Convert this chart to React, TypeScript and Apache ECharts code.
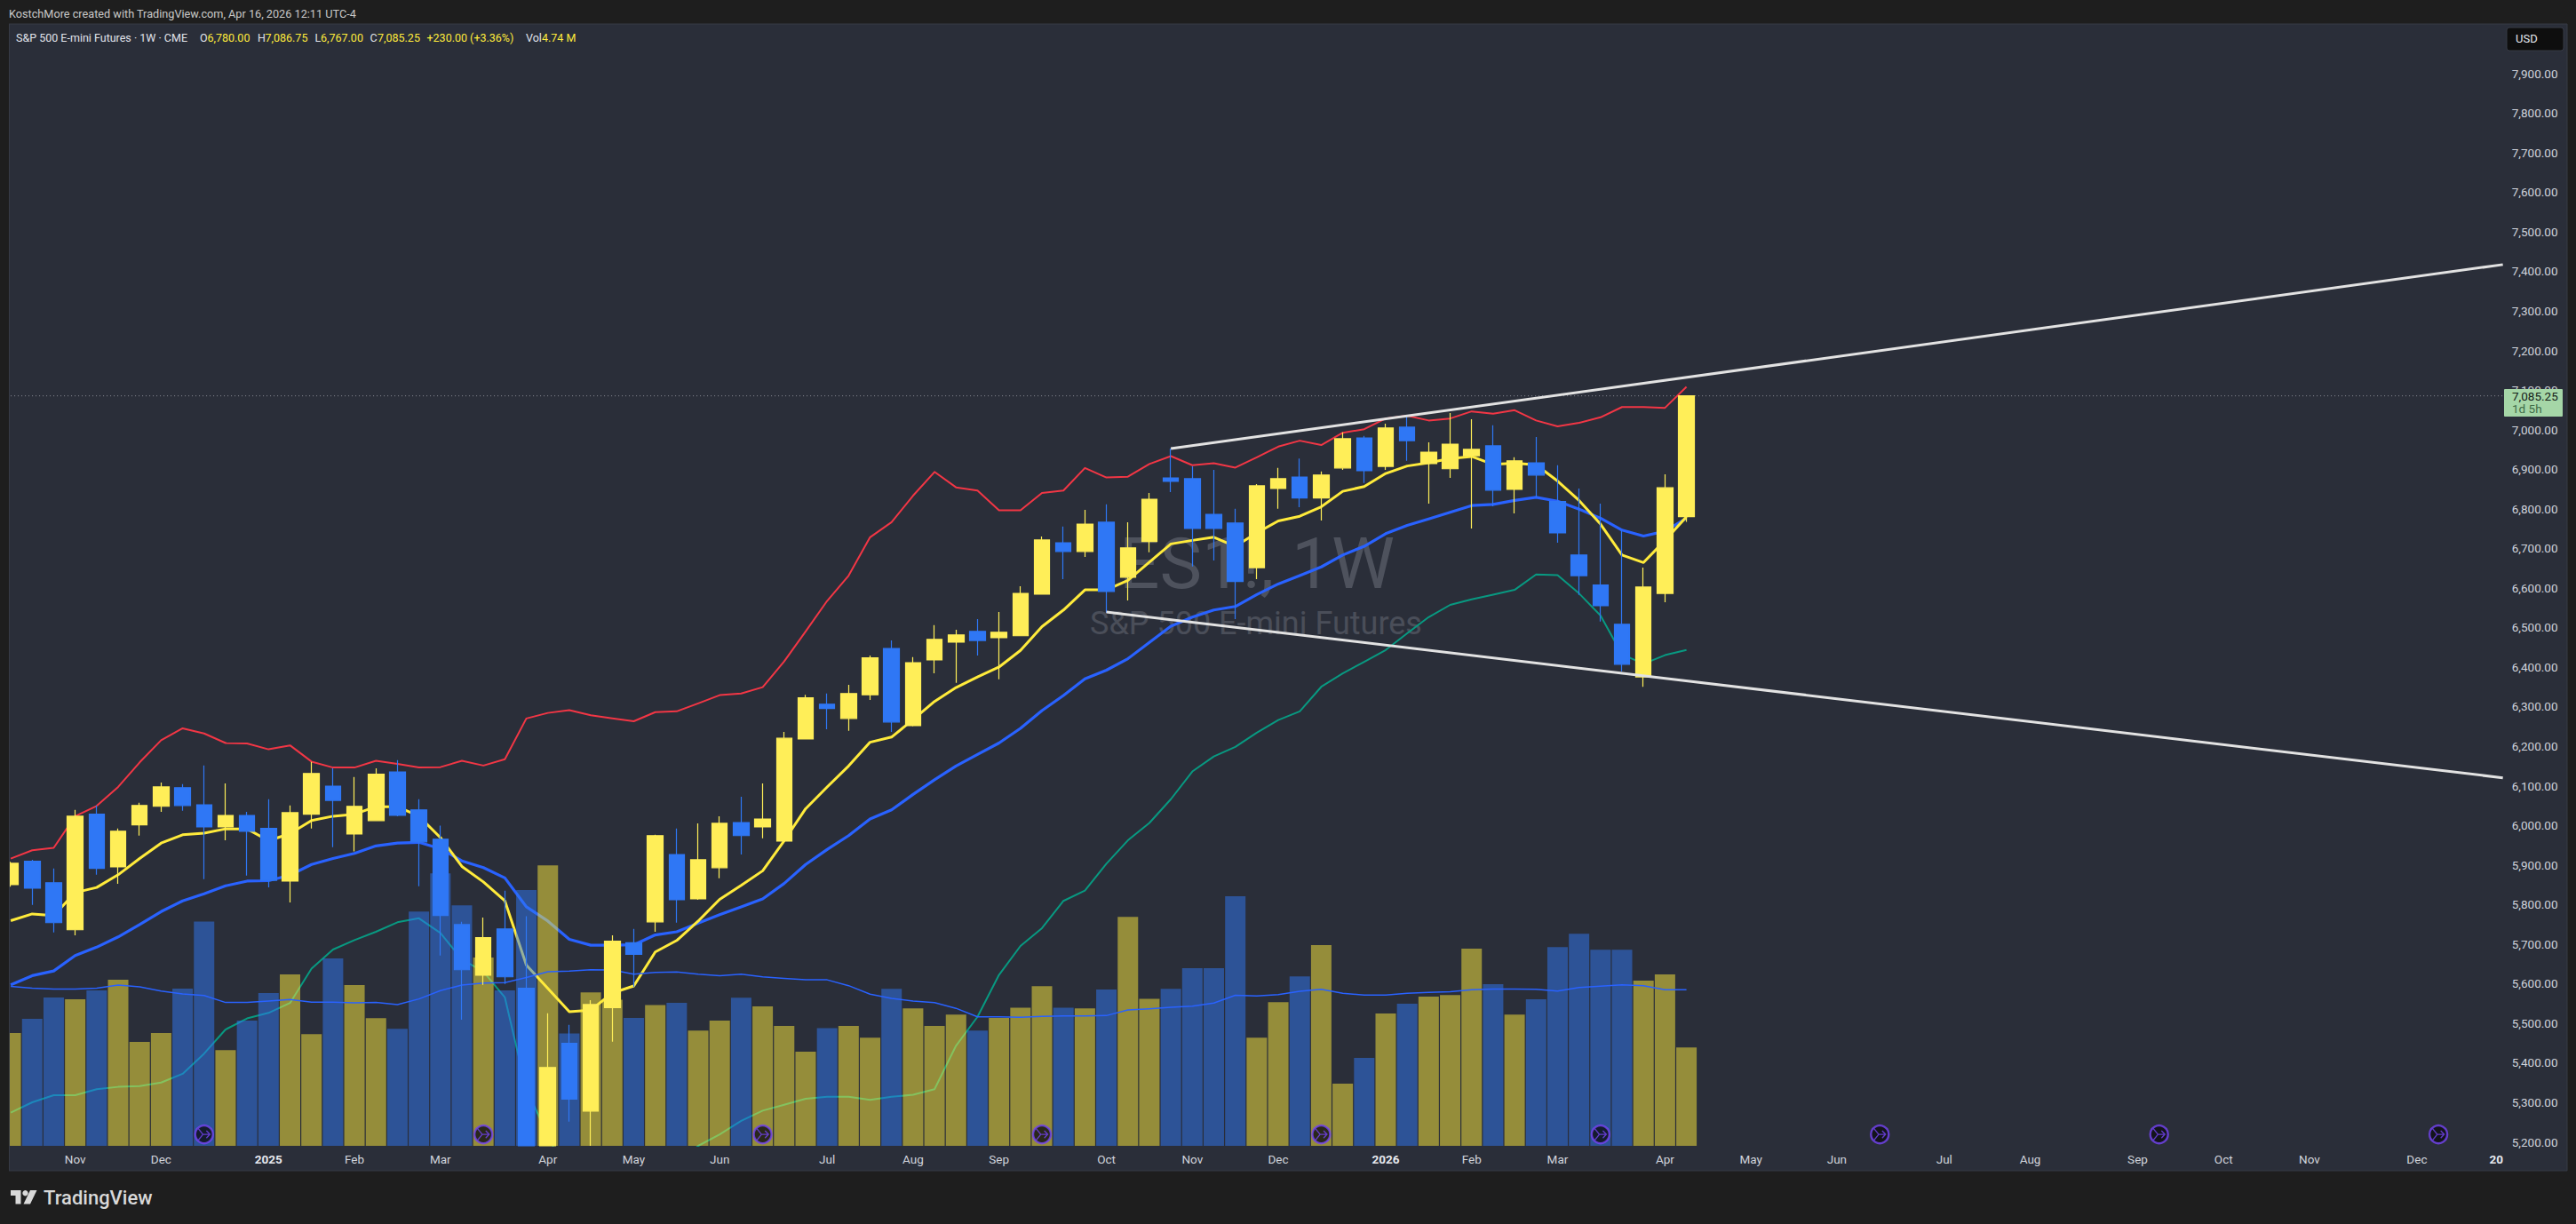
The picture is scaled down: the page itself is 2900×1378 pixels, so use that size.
import React, { useEffect, useRef } from "react";
import * as echarts from "echarts";

const FONT = "Roboto, 'Noto Sans', sans-serif";

const opens = [
  5850, 5909, 5855, 5736, 6028, 5895, 6001, 6048, 6095, 6052,
  5996, 6025, 5992, 5859, 6028, 6099, 5978, 6012, 6135, 6039,
  5965, 5749, 5621, 5738, 5588, 5000, 5449, 5278, 5539, 5703,
  5756, 5926, 5814, 5893, 6007, 5996, 5960, 6218, 6306, 6270,
  6330, 6447, 6252, 6418, 6463, 6490, 6474, 6479, 6584, 6714,
  6692, 6766, 6627, 6717, 6878, 6876, 6786, 6764, 6651, 6851,
  6880, 6827, 6903, 6979, 6907, 7006, 6914, 6901, 6934, 6959,
  6849, 6916, 6818, 6683, 6607, 6508, 6375, 6586, 6780,
];
const closes = [
  5904, 5841, 5754, 6023, 5891, 5985, 6050, 6097, 6050, 5996,
  6025, 5985, 5861, 6032, 6131, 6063, 6048, 6129, 6025, 5958,
  5772, 5635, 5716, 5617, 5090, 5388, 5308, 5547, 5707, 5674,
  5974, 5812, 5913, 6005, 5974, 6016, 6220, 6322, 6295, 6333,
  6423, 6261, 6411, 6470, 6481, 6467, 6488, 6586, 6721, 6692,
  6761, 6591, 6701, 6824, 6869, 6750, 6750, 6616, 6858, 6876,
  6827, 6885, 6977, 6896, 7004, 6972, 6943, 6963, 6950, 6847,
  6921, 6885, 6739, 6631, 6555, 6407, 6602, 6853, 7085.25,
];
const lows = [
  5845, 5799, 5729, 5722, 5875, 5852, 5974, 6034, 6037, 5864,
  5962, 5873, 5843, 5805, 5992, 5945, 5934, 6012, 6023, 5846,
  5671, 5509, 5597, 5599, 5060, 4832, 5251, 5150, 5453, 5592,
  5731, 5754, 5812, 5866, 5926, 5967, 5960, 6218, 6243, 6239,
  6317, 6236, 6250, 6384, 6360, 6429, 6369, 6479, 6584, 6622,
  6678, 6537, 6568, 6690, 6842, 6654, 6669, 6521, 6622, 6800,
  6804, 6770, 6898, 6865, 6898, 6921, 6813, 6878, 6750, 6806,
  6788, 6829, 6714, 6582, 6515, 6389, 6350, 6564, 6767,
];
const highs = [
  5908, 5913, 5891, 6039, 6050, 5992, 6057, 6108, 6104, 6151,
  6106, 6034, 6066, 6050, 6160, 6144, 6122, 6144, 6165, 6066,
  5999, 5756, 5767, 5835, 5770, 5525, 5496, 5558, 5722, 5738,
  5976, 5992, 6005, 6023, 6072, 6106, 6236, 6330, 6333, 6355,
  6429, 6467, 6425, 6506, 6494, 6521, 6539, 6604, 6730, 6755,
  6797, 6811, 6766, 6840, 6952, 6907, 6898, 6800, 6862, 6903,
  6927, 6894, 6993, 6984, 7015, 7035, 6968, 7042, 7026, 7011,
  6930, 6981, 6910, 6851, 6813, 6746, 6651, 6887, 7086.75,
];
const volumes = [
  5.43, 6.11, 7.14, 7.05, 7.48, 8.0, 5.0, 5.43, 7.57, 10.8,
  4.61, 6.03, 7.35, 8.25, 5.38, 9.02, 7.74, 6.15, 5.63, 11.28,
  13.12, 11.58, 9.06, 7.48, 12.31, 13.5, 5.41, 7.39, 7.03, 6.16,
  6.78, 6.88, 5.55, 6.03, 7.13, 6.71, 5.77, 4.53, 5.67, 5.77,
  5.21, 7.56, 6.62, 5.77, 6.32, 5.55, 6.16, 6.65, 7.69, 6.65,
  6.62, 7.52, 11.02, 7.08, 7.56, 8.55, 8.55, 12.01, 5.21, 6.92,
  8.16, 9.66, 2.99, 4.23, 6.37, 6.84, 7.18, 7.26, 9.49, 7.78,
  6.32, 7.05, 9.57, 10.21, 9.44, 9.44, 7.95, 8.25, 4.74,
];
const volumeAverage = [
  7.67, 7.59, 7.55, 7.55, 7.59, 7.74, 7.65, 7.45, 7.31, 7.24,
  6.9, 6.9, 6.97, 7.04, 6.92, 6.92, 6.88, 6.9, 6.8, 7.07,
  7.47, 7.74, 7.83, 7.86, 8.1, 8.38, 8.41, 8.48, 8.47, 8.26,
  8.35, 8.37, 8.26, 8.19, 8.26, 8.13, 8.06, 7.99, 7.99, 7.71,
  7.3, 7.1, 6.97, 6.89, 6.62, 6.21, 6.21, 6.19, 6.23, 6.25,
  6.25, 6.27, 6.54, 6.6, 6.67, 6.72, 6.87, 7.25, 7.22, 7.28,
  7.44, 7.54, 7.34, 7.26, 7.26, 7.34, 7.39, 7.42, 7.51, 7.55,
  7.55, 7.54, 7.45, 7.62, 7.69, 7.75, 7.71, 7.51, 7.51,
];
const upperBand = [
  5916, 5937, 5943, 6023, 6049, 6097, 6159, 6215, 6245, 6232,
  6208, 6207, 6192, 6202, 6161, 6146, 6146, 6163, 6155, 6146,
  6147, 6163, 6151, 6167, 6270, 6284, 6291, 6278, 6270, 6263,
  6286, 6288, 6308, 6329, 6333, 6349, 6414, 6490, 6567, 6631,
  6728, 6766, 6833, 6893, 6854, 6846, 6796, 6796, 6840, 6846,
  6903, 6879, 6881, 6913, 6933, 6910, 6915, 6904, 6930, 6957,
  6972, 6961, 6992, 7001, 7028, 7035, 7023, 7028, 7046, 7040,
  7049, 7023, 7008, 7017, 7031, 7057, 7057, 7055, 7108,
];
const fastAverage = [
  5759, 5776, 5772, 5830, 5843, 5875, 5916, 5955, 5976, 5980,
  5991, 5991, 5961, 5979, 6012, 6023, 6028, 6047, 6047, 6023,
  5969, 5896, 5857, 5809, 5647, 5588, 5529, 5533, 5576, 5594,
  5680, 5709, 5758, 5813, 5848, 5885, 5961, 6042, 6097, 6150,
  6210, 6223, 6267, 6313, 6348, 6375, 6400, 6442, 6502, 6544,
  6595, 6595, 6619, 6665, 6711, 6720, 6728, 6705, 6739, 6769,
  6781, 6805, 6844, 6856, 6889, 6908, 6916, 6927, 6932, 6912,
  6915, 6911, 6870, 6821, 6761, 6683, 6664, 6720, 6780,
];
const slowAverage = [
  5597, 5620, 5632, 5671, 5692, 5718, 5749, 5782, 5809, 5827,
  5847, 5859, 5860, 5874, 5901, 5916, 5929, 5948, 5955, 5957,
  5941, 5910, 5893, 5867, 5794, 5758, 5712, 5697, 5697, 5698,
  5723, 5731, 5753, 5774, 5794, 5814, 5853, 5901, 5939, 5974,
  6016, 6039, 6078, 6115, 6150, 6179, 6208, 6245, 6290, 6328,
  6370, 6392, 6421, 6462, 6503, 6526, 6544, 6553, 6583, 6610,
  6631, 6653, 6683, 6705, 6737, 6758, 6774, 6791, 6808, 6811,
  6821, 6829, 6819, 6799, 6776, 6746, 6731, 6743, 6776,
];
const lowerBand = [
  5274, 5300, 5318, 5318, 5333, 5339, 5341, 5350, 5372, 5423,
  5484, 5512, 5526, 5551, 5638, 5686, 5710, 5731, 5755, 5765,
  5728, 5661, 5630, 5565, 5333, 5217, 5100, 5040, 5030, 5050,
  5090, 5140, 5190, 5219, 5253, 5279, 5294, 5309, 5314, 5314,
  5306, 5314, 5319, 5333, 5443, 5516, 5622, 5695, 5740, 5809,
  5835, 5903, 5962, 6006, 6066, 6136, 6174, 6198, 6234, 6266,
  6288, 6350, 6384, 6413, 6443, 6485, 6526, 6557, 6571, 6583,
  6595, 6634, 6632, 6586, 6530, 6432, 6408, 6430, 6443,
];

const SLOT_COUNT = 117;
const categories = Array.from({ length: SLOT_COUNT }, (_, i) => String(i));
const monthTickIndex = [3, 7, 12, 16, 20, 25, 29, 33, 38, 42, 46, 51, 55, 59, 64, 68, 72, 77, 81, 85, 90, 94, 99, 103, 107, 112, 116];
const monthTickLabel = ["Nov", "Dec", "2025", "Feb", "Mar", "Apr", "May", "Jun", "Jul", "Aug", "Sep", "Oct", "Nov", "Dec", "2026", "Feb", "Mar", "Apr", "May", "Jun", "Jul", "Aug", "Sep", "Oct", "Nov", "Dec", "20"];
const priceTicks = [5200, 5300, 5400, 5500, 5600, 5700, 5800, 5900, 6000, 6100, 6200, 6300, 6400, 6500, 6600, 6700, 6800, 6900, 7000, 7100, 7200, 7300, 7400, 7500, 7600, 7700, 7800, 7900];
const eventIndex = [9, 22, 35, 48, 61, 74, 87, 100, 113];
const EVENT_LEVEL = 5219;
const upperTrend = [[54, 6952], [116, 7417]];
const lowerTrend = [[51, 6539], [116, 6120]];
const LAST_PRICE = 7085.25;
const AXIS_MIN = 5190;
const AXIS_MAX = 8025;

const OUTER = "#1e1e1e";
const PANEL = "#2a2e39";
const YELLOW = "#FFEE58";
const BLUE = "#2F77F5";

const text = (t: string, x: number, y: number, fill: string, size: number, extra: any = {}) => ({
  type: "text",
  x,
  y,
  z: 20,
  silent: true,
  style: { text: t, fill, font: `${extra.weight || 400} ${size}px ${FONT}`, align: extra.align || "left", verticalAlign: "middle" },
});

const headerSegments: [string, number, string][] = [
  ["S&P 500 E-mini Futures · 1W · CME", 18, "#e0e3eb"],
  ["O", 225, "#e0e3eb"],
  ["6,780.00", 233.5, "#FFEB3B"],
  ["H", 290, "#e0e3eb"],
  ["7,086.75", 298.5, "#FFEB3B"],
  ["L", 354.5, "#e0e3eb"],
  ["6,767.00", 361, "#FFEB3B"],
  ["C", 416.5, "#e0e3eb"],
  ["7,085.25", 425, "#FFEB3B"],
  ["+230.00 (+3.36%)", 480.5, "#FFEB3B"],
  ["Vol", 592, "#e0e3eb"],
  ["4.74 M", 610, "#FFEB3B"],
];

export default function App() {
  const ref = useRef<HTMLDivElement>(null);
  useEffect(() => {
    document.body.style.margin = "0";
    const chart = echarts.init(ref.current!, undefined, { renderer: "svg", width: 2900, height: 1378 });
    const lineSeries = (name: string, data: any[], color: string, width: number, z: number, extra: any = {}) => ({
      name,
      type: "line",
      data,
      showSymbol: false,
      symbol: "none",
      silent: true,
      z,
      lineStyle: { color, width, join: "round" },
      ...extra,
    });
    const floor = (v: number) => Math.max(v, AXIS_MIN);
    chart.setOption({
      animation: false,
      backgroundColor: OUTER,
      grid: { left: -4, right: 70.26, top: 27, bottom: 88, containLabel: false },
      tooltip: { show: false },
      xAxis: {
        type: "category",
        data: categories,
        boundaryGap: true,
        axisLine: { show: false },
        axisTick: { show: false },
        splitLine: { show: false },
        axisLabel: {
          interval: 0,
          margin: 8,
          hideOverlap: false,
          color: "#d1d4dc",
          fontFamily: FONT,
          fontSize: 13.5,
          formatter: (v: string) => {
            const k = monthTickIndex.indexOf(Number(v));
            if (k < 0) return "";
            const t = monthTickLabel[k];
            if (t === "20") return `{cut|${t}}`;
            return /^\d+$/.test(t) ? `{year|${t}}` : t;
          },
          rich: {
            year: { fontWeight: 700, fontSize: 13.5, color: "#e6e8ee", fontFamily: FONT },
            cut: { fontWeight: 700, fontSize: 13.5, color: "#e6e8ee", fontFamily: FONT, padding: [0, 15, 0, 0] },
          },
        },
      },
      yAxis: [
        {
          type: "value",
          position: "right",
          min: AXIS_MIN,
          max: AXIS_MAX,
          splitLine: { show: false },
          axisLine: { show: false },
          axisTick: { show: false },
          axisLabel: {
            customValues: priceTicks,
            margin: -2,
            color: "#d1d4dc",
            fontFamily: FONT,
            fontSize: 13.5,
            formatter: (v: number) => v.toLocaleString("en-US", { minimumFractionDigits: 2, maximumFractionDigits: 2 }),
          },
        },
        { type: "value", show: false, min: 0, max: 54, splitLine: { show: false } },
      ],
      series: [
        lineSeries("Last price", [[0, LAST_PRICE], [116, LAST_PRICE]], "#8b8e97", 1, 1, { lineStyle: { color: "#8b8e97", width: 1, type: [1, 3] } }),
        lineSeries("Upper band", upperBand, "#F23645", 2, 2),
        lineSeries("Lower band", lowerBand, "#089981", 2, 2),
        lineSeries("Slow average", slowAverage, "#2962FF", 3.2, 2),
        lineSeries("Fast average", fastAverage, "#FFEB3B", 3, 2.5),
        {
          name: "Volume",
          type: "bar",
          yAxisIndex: 1,
          data: volumes,
          barWidth: 23,
          silent: true,
          z: 3,
          itemStyle: {
            color: (p: any) => (closes[p.dataIndex] >= opens[p.dataIndex] ? "rgba(255,235,59,0.5)" : "rgba(47,119,245,0.5)"),
          },
        },
        lineSeries("Volume average", volumeAverage, "#2962FF", 1.5, 4, { yAxisIndex: 1 }),
        {
          name: "ES1!",
          type: "candlestick",
          data: opens.map((o, i) => [floor(o), floor(closes[i]), floor(lows[i]), highs[i]]),
          barWidth: 18,
          silent: true,
          z: 5,
          itemStyle: { color: YELLOW, color0: BLUE, borderColor: YELLOW, borderColor0: BLUE, borderWidth: 1.2 },
        },
        lineSeries("Upper trend", upperTrend, "#e2e2e2", 3, 6),
        lineSeries("Lower trend", lowerTrend, "#e2e2e2", 3, 6),
        {
          name: "Events",
          type: "scatter",
          data: eventIndex.map((i) => [i, EVENT_LEVEL]),
          symbol: "circle",
          symbolSize: 20,
          silent: true,
          z: 7,
          itemStyle: { color: "#0e0e14", borderColor: "#7445f2", borderWidth: 2.4 },
        },
        {
          name: "Event glyphs",
          type: "scatter",
          data: eventIndex.map((i) => [i, EVENT_LEVEL]),
          symbol: "path://M2 2 L10 10 H22 M16 5 L22 10 L16 15 M2 18 L10 10",
          symbolSize: 13,
          silent: true,
          z: 8,
          itemStyle: { color: "rgba(0,0,0,0)", borderColor: "#7445f2", borderWidth: 1.4 },
        },
      ],
      graphic: {
        elements: [
          { type: "rect", z: -10, silent: true, shape: { x: 10, y: 27, width: 2880, height: 1291 }, style: { fill: PANEL, stroke: "#363a45", lineWidth: 1 } },
          { type: "text", x: 1415, y: 635, z: 0, silent: true, style: { text: "ES1!, 1W", fill: "#4e525d", font: `400 80px ${FONT}`, align: "center", verticalAlign: "middle" } },
          { type: "text", x: 1414, y: 702, z: 0, silent: true, style: { text: "S&P 500 E-mini Futures", fill: "#4a4e59", font: `400 36px ${FONT}`, align: "center", verticalAlign: "middle" } },
          { type: "rect", z: 15, silent: true, shape: { x: 0, y: 0, width: 10, height: 1378 }, style: { fill: OUTER } },
          { type: "rect", z: 15, silent: true, shape: { x: 10, y: 27, width: 1, height: 1291 }, style: { fill: "#363a45" } },
          text("KostchMore created with TradingView.com, Apr 16, 2026 12:11 UTC-4", 10, 15.5, "#c9c9c9", 12.7),
          ...headerSegments.map(([t, x, c]) => text(t, x, 42.5, c, 12.5)),
          { type: "rect", z: 18, silent: true, shape: { x: 2822, y: 31, width: 64, height: 26, r: 3 }, style: { fill: "#0e0e0e", stroke: "#363a45", lineWidth: 1 } },
          text("USD", 2832, 43.5, "#e6e8ee", 13),
          { type: "rect", z: 18, silent: true, shape: { x: 2819, y: 438, width: 66, height: 31, r: 1 }, style: { fill: "#A5D6A7" } },
          text("7,085.25", 2828, 445.8, "#142018", 13.5),
          text("1d 5h", 2828, 460, "#3f6b48", 13.5),
          { type: "polygon", z: 20, silent: true, shape: { points: [[12, 1340], [23.5, 1340], [23.5, 1355.5], [17.5, 1355.5], [17.5, 1346], [12, 1346]] }, style: { fill: "#d9d9d9" } },
          { type: "polygon", z: 20, silent: true, shape: { points: [[34, 1340], [41.5, 1340], [34, 1355.5], [26.5, 1355.5]] }, style: { fill: "#d9d9d9" } },
          { type: "circle", z: 20, silent: true, shape: { cx: 28.5, cy: 1343.3, r: 3.2 }, style: { fill: "#d9d9d9" } },
          text("TradingView", 49, 1348, "#d9d9d9", 22, { weight: 500 }),
        ],
      },
    });
    return () => chart.dispose();
  }, []);
  return <div ref={ref} style={{ position: "fixed", left: 0, top: 0, width: 2900, height: 1378 }} />;
}
